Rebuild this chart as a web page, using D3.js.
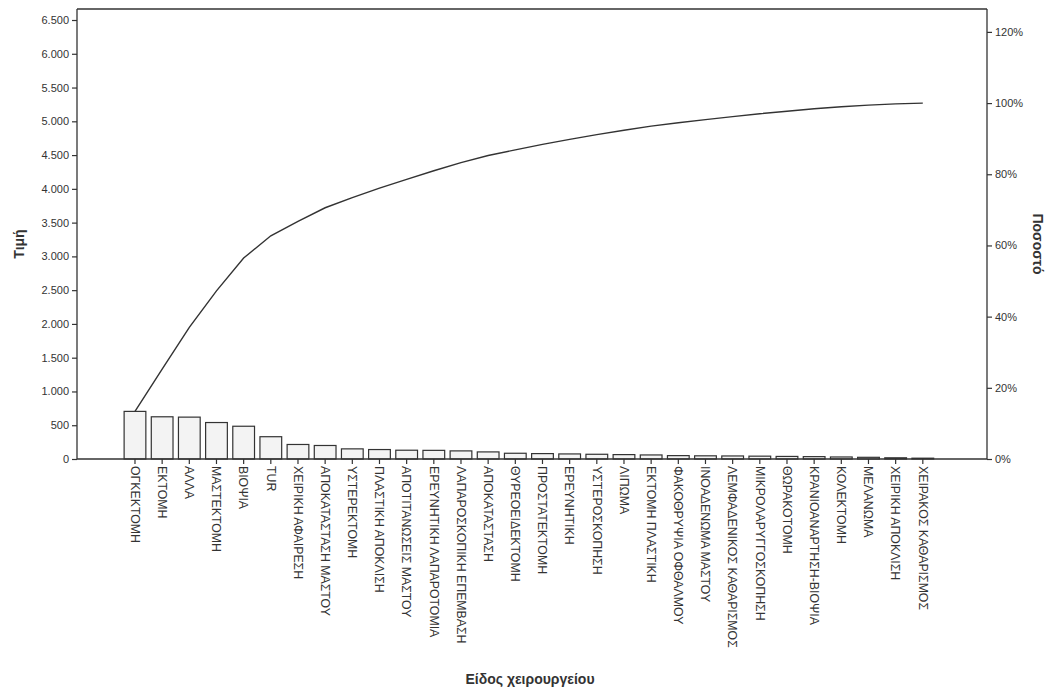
<!DOCTYPE html>
<html>
<head>
<meta charset="utf-8">
<script src="https://cdn.jsdelivr.net/npm/d3@7"></script>
<style>
  body { margin: 0; background: #ffffff; }
  svg { display: block; }
  text { font-family: "Liberation Sans", Arial, sans-serif; fill: #333; }
</style>
</head>
<body>
<svg id="chart" width="1056" height="692"></svg>
<script>
const categories = [
  "ΟΓΚΕΚΤΟΜΗ", "ΕΚΤΟΜΗ", "ΑΛΛΑ", "ΜΑΣΤΕΚΤΟΜΗ", "ΒΙΟΨΙΑ", "TUR",
  "ΧΕΙΡΙΚΗ ΑΦΑΙΡΕΣΗ", "ΑΠΟΚΑΤΑΣΤΑΣΗ ΜΑΣΤΟΥ", "ΥΣΤΕΡΕΚΤΟΜΗ", "ΠΛΑΣΤΙΚΗ ΑΠΟΚΛΙΣΗ",
  "ΑΠΟΤΙΤΑΝΩΣΕΙΣ ΜΑΣΤΟΥ", "ΕΡΕΥΝΗΤΙΚΗ ΛΑΠΑΡΟΤΟΜΙΑ", "ΛΑΠΑΡΟΣΚΟΠΙΚΗ ΕΠΕΜΒΑΣΗ",
  "ΑΠΟΚΑΤΑΣΤΑΣΗ", "ΘΥΡΕΟΕΙΔΕΚΤΟΜΗ", "ΠΡΟΣΤΑΤΕΚΤΟΜΗ", "ΕΡΕΥΝΗΤΙΚΗ", "ΥΣΤΕΡΟΣΚΟΠΗΣΗ",
  "ΛΙΠΩΜΑ", "ΕΚΤΟΜΗ ΠΛΑΣΤΙΚΗ", "ΦΑΚΟΘΡΥΨΙΑ ΟΦΘΑΛΜΟΥ", "ΙΝΟΑΔΕΝΩΜΑ ΜΑΣΤΟΥ",
  "ΛΕΜΦΑΔΕΝΙΚΟΣ ΚΑΘΑΡΙΣΜΟΣ", "ΜΙΚΡΟΛΑΡΥΓΓΟΣΚΟΠΗΣΗ", "ΘΩΡΑΚΟΤΟΜΗ",
  "ΚΡΑΝΙΟΑΝΑΡΤΗΣΗ-ΒΙΟΨΙΑ", "ΚΟΛΕΚΤΟΜΗ", "ΜΕΛΑΝΩΜΑ", "ΧΕΙΡΙΚΗ ΑΠΟΚΛΙΣΗ",
  "ΧΕΙΡΑΚΟΣ ΚΑΘΑΡΙΣΜΟΣ"
];
const counts = [
  705, 625, 620, 540, 485, 330, 215, 200, 150, 140,
  130, 128, 120, 105, 85, 80, 75, 70, 65, 60,
  50, 47, 45, 42, 38, 35, 30, 25, 18, 12
];
const leftTicks = [0, 500, 1000, 1500, 2000, 2500, 3000, 3500, 4000, 4500, 5000, 5500, 6000, 6500];
const rightTicks = [0, 0.2, 0.4, 0.6, 0.8, 1.0, 1.2];
const leftTitle = "Τιμή";
const rightTitle = "Ποσοστό";
const xTitle = "Είδος χειρουργείου";

const svg = d3.select("#chart");
const plot = { left: 77, right: 987, top: 9, bottom: 459 };
const yMax = 6663;

const total = d3.sum(counts);
const cumulative = d3.cumsum(counts);

const x = d3.scaleBand()
  .domain(categories)
  .range([121.4, 936.4])
  .paddingInner(0.2)
  .paddingOuter(0.1);

const y = d3.scaleLinear().domain([0, yMax]).range([plot.bottom, plot.top]);
// right axis: 100% corresponds to the total count on the left scale
const yPct = d3.scaleLinear().domain([0, yMax / total]).range([plot.bottom, plot.top]);

const greek = d3.formatLocale({ decimal: ",", thousands: ".", grouping: [3], currency: ["", "€"] });
const fmtLeft = greek.format(",d");
const fmtPct = d3.format(".0%");

// frame top line
svg.append("line")
  .attr("x1", plot.left).attr("x2", plot.right)
  .attr("y1", plot.top).attr("y2", plot.top)
  .attr("stroke", "#333").attr("stroke-width", 1.3);

// bars
svg.append("g").selectAll("rect")
  .data(counts)
  .join("rect")
  .attr("x", (d, i) => x(categories[i]))
  .attr("y", d => y(d))
  .attr("width", x.bandwidth())
  .attr("height", d => y(0) - y(d))
  .attr("fill", "#f3f3f3")
  .attr("stroke", "#333")
  .attr("stroke-width", 1.2);

// cumulative line
const line = d3.line()
  .x((d, i) => x(categories[i]) + x.bandwidth() / 2)
  .y(d => yPct(d / total));
svg.append("path")
  .datum(cumulative)
  .attr("d", line)
  .attr("fill", "none")
  .attr("stroke", "#333")
  .attr("stroke-width", 1.4);

// left axis
const gL = svg.append("g")
  .attr("transform", `translate(${plot.left},0)`)
  .call(d3.axisLeft(y).tickValues(leftTicks).tickFormat(fmtLeft).tickSize(5).tickPadding(3));
// right axis
const gR = svg.append("g")
  .attr("transform", `translate(${plot.right},0)`)
  .call(d3.axisRight(yPct).tickValues(rightTicks).tickFormat(fmtPct).tickSize(5).tickPadding(3));
// bottom axis
const gB = svg.append("g")
  .attr("transform", `translate(0,${plot.bottom})`)
  .call(d3.axisBottom(x).tickSize(5).tickPadding(3));

[gL, gR, gB].forEach(g => {
  g.select(".domain").attr("stroke", "#333").attr("stroke-width", 1.3);
  g.selectAll(".tick line").attr("stroke", "#333").attr("stroke-width", 1.2);
  g.selectAll("text").attr("fill", "#3a3a3a")
    .style("font-family", "'Liberation Sans', Arial, sans-serif");
});
// extend domain lines to the full frame
gL.select(".domain").attr("d", `M0,${plot.bottom}V${plot.top}`);
gR.select(".domain").attr("d", `M0,${plot.bottom}V${plot.top}`);
gB.select(".domain").attr("d", `M${plot.left},0H${plot.right}`);

gL.selectAll("text").style("font-size", "11px");
gR.selectAll("text").style("font-size", "11px");
gB.selectAll("text")
  .style("font-size", "12.3px")
  .attr("fill", "#2a2a2a")
  .attr("text-anchor", "start")
  .attr("dy", "0.35em")
  .attr("transform", "translate(0,7) rotate(90)")
  .attr("x", 0).attr("y", 0);

// titles
svg.append("text")
  .attr("transform", `translate(24,${(plot.top + plot.bottom) / 2 + 10}) rotate(-90)`)
  .attr("text-anchor", "middle")
  .style("font-size", "14px").style("font-weight", "bold")
  .text(leftTitle);
svg.append("text")
  .attr("transform", `translate(1033,${(plot.top + plot.bottom) / 2 + 10}) rotate(90)`)
  .attr("text-anchor", "middle")
  .style("font-size", "14px").style("font-weight", "bold")
  .text(rightTitle);
svg.append("text")
  .attr("x", 530).attr("y", 684)
  .attr("text-anchor", "middle")
  .style("font-size", "14px").style("font-weight", "bold")
  .text(xTitle);
</script>
</body>
</html>
